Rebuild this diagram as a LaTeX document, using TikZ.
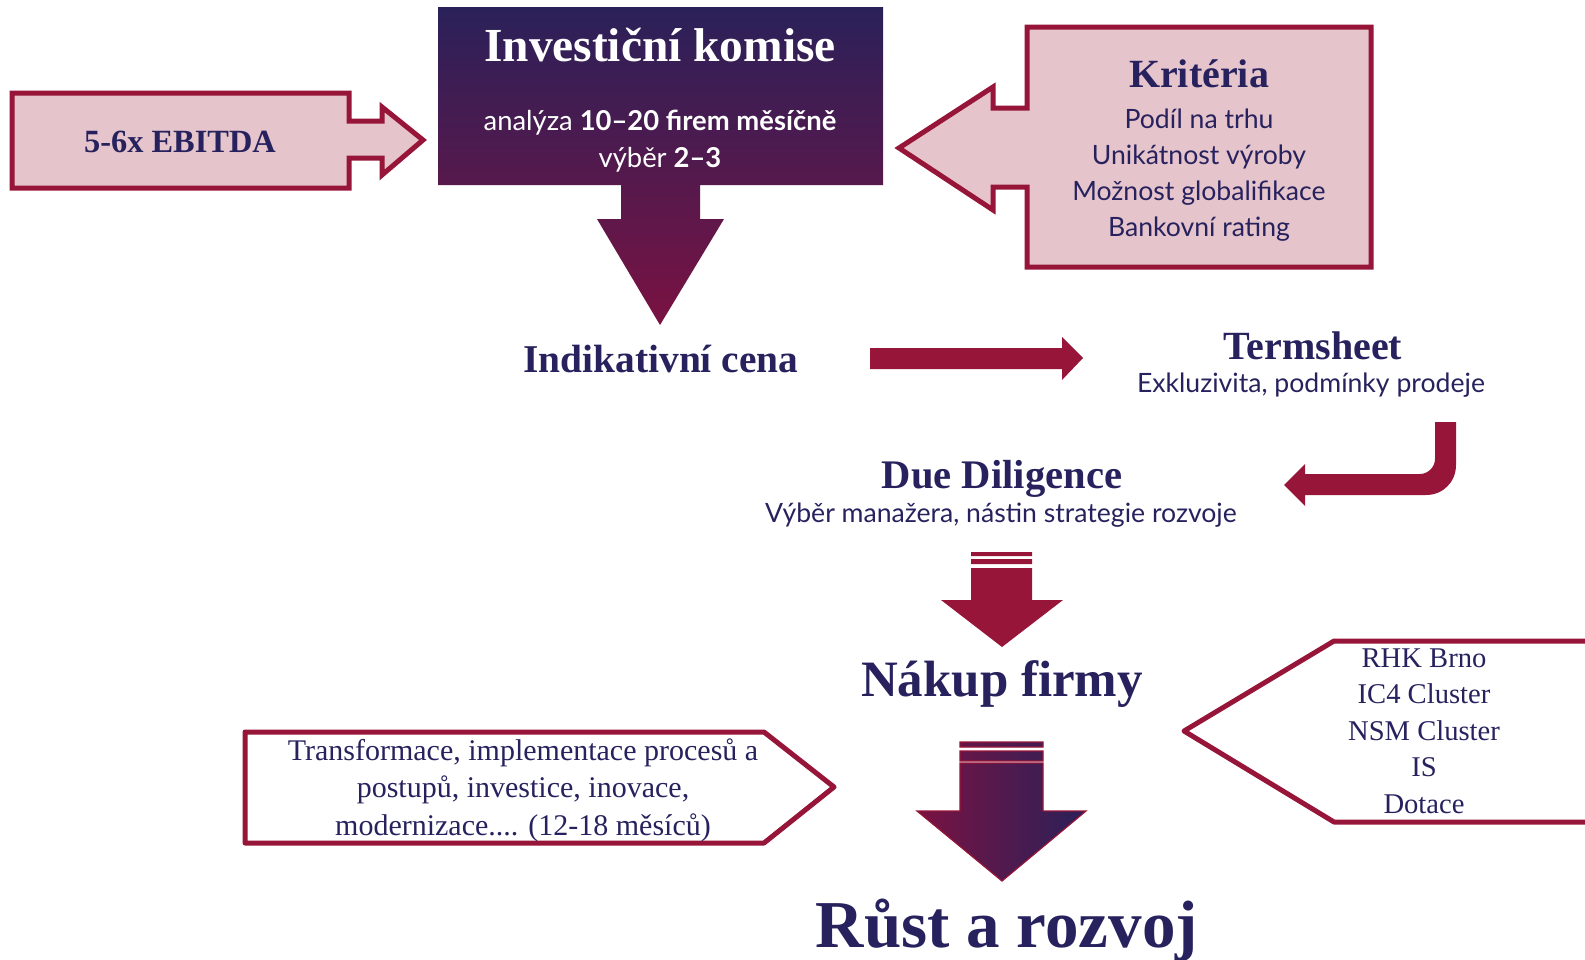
\documentclass[tikz,border=0pt]{standalone}
\usepackage{fontspec}
\setmainfont{Liberation Serif}
\newfontfamily\sansfont{Lato}
\usetikzlibrary{positioning}
\definecolor{ogred}{HTML}{961538}
\definecolor{ogpink}{HTML}{E5C4CB}
\definecolor{ognavy}{HTML}{27225E}
\definecolor{ogtop}{HTML}{2A2159}
\definecolor{ogbot}{HTML}{7A1242}
\tikzset{
  pinkshape/.style={draw=ogred, line width=2.5pt, fill=ogpink, line join=miter},
  tagshape/.style={draw=ogred, line width=2.5pt, fill=white, line join=round},
  redblock/.style={fill=ogred},
  headtxt/.style={text=ognavy, font=\bfseries\fontsize{20}{24}\selectfont, anchor=base, inner sep=0pt},
  subtxt/.style={text=ognavy, font=\sansfont\fontsize{13.3}{16}\selectfont, anchor=base, inner sep=0pt},
  tagtxt/.style={text=ognavy, font=\fontsize{15}{18}\selectfont, anchor=base, inner sep=0pt}
}

\begin{document}
\begin{tikzpicture}[x=0.5pt,y=-0.5pt]
  \useasboundingbox (0,0) rectangle (1585,959);
  \clip (0,0) rectangle (1585,959);

  % investicni komise
  \shade[top color=ogtop, bottom color=ogbot]
    (438,7) -- (883,7) -- (883,185) -- (700,185) -- (700,219) -- (724,219) -- (660,325)
    -- (597,219) -- (621,219) -- (621,185) -- (438,185) -- cycle;
  \node[headtxt, text=white, font=\bfseries\fontsize{23.7}{28}\selectfont] (komise) at (660,61) {Investiční komise};
  \node[subtxt, text=white, font=\sansfont\fontsize{13.7}{16}\selectfont] (analyza) at (660,130) {analýza \textbf{10–20 firem měsíčně}};
  \node[subtxt, text=white, font=\sansfont\fontsize{13.7}{16}\selectfont] (vyber) at (660,167) {výběr \textbf{2–3}};

  % ebitda
  \draw[pinkshape] (12,93) -- (349,93) -- (349,121) -- (382,121) -- (382,107) -- (423,140)
    -- (382,175) -- (382,158) -- (349,158) -- (349,188) -- (12,188) -- cycle;
  \node[headtxt, font=\bfseries\fontsize{16.2}{19}\selectfont] (ebitda) at (180,152) {5-6x EBITDA};

  % kriteria
  \draw[pinkshape] (1027,27) -- (1371,27) -- (1371,267) -- (1027,267) -- (1027,187) -- (993,187)
    -- (993,210) -- (899,148) -- (993,87) -- (993,108) -- (1027,108) -- cycle;
  \node[headtxt] (kriteria) at (1199,87) {Kritéria};
  \foreach \t [count=\i from 0] in {Podíl na trhu, Unikátnost výroby, Možnost globalifikace, Bankovní rating}
    \node[subtxt] (krit\i) at (1199,128+36.3*\i) {\t};

  % indikativni cena -> termsheet
  \node[headtxt, font=\bfseries\fontsize{19.7}{24}\selectfont] (cena) at (661,372) {Indikativní cena};
  \fill[redblock] (870,348) -- (1062,348) -- (1062,337) -- (1083,358) -- (1062,380) -- (1062,369) -- (870,369) -- cycle;
  \node[headtxt] (termsheet) at (1313,359) {Termsheet};
  \node[subtxt] (exkl) at (1311,392) {Exkluzivita, podmínky prodeje};

  % termsheet -> due diligence
  \fill[redblock] (1456,422) -- (1456,465) .. controls (1456,482) and (1443,495) .. (1426,495)
    -- (1305,495) -- (1305,506) -- (1284,485) -- (1305,464) -- (1305,474) -- (1420,474)
    .. controls (1428,474) and (1435,467) .. (1435,459) -- (1435,422) -- cycle;
  \node[headtxt, font=\bfseries\fontsize{20.3}{24}\selectfont] (due) at (1002,488) {Due Diligence};
  \node[subtxt] (manazer) at (1001,522) {Výběr manažera, nástin strategie rozvoje};

  % due diligence -> nakup
  \fill[redblock] (971,552) rectangle (1032,556) (971,559) rectangle (1032,564)
    (971,568) -- (1032,568) -- (1032,600) -- (1063,600) -- (1002,647) -- (941,600) -- (971,600) -- cycle;
  \node[headtxt, font=\bfseries\fontsize{25.5}{30}\selectfont] (nakup) at (1002,696) {Nákup firmy};

  % nakup -> rust
  \shade[left color=ogbot, right color=ogtop, draw=ogred, line width=0.6pt]
    (960,742) rectangle (1043,747) (960,751) rectangle (1043,761)
    (960,763) -- (1043,763) -- (1043,811) -- (1086,811) -- (1002,881) -- (917,811) -- (960,811) -- cycle;
  \node[headtxt, font=\bfseries\fontsize{33.5}{40}\selectfont] (rust) at (1007,947) {Růst a rozvoj};

  % transformace
  \draw[tagshape] (245,732) -- (764,732) -- (834,787) -- (764,843) -- (245,843) -- cycle;
  \node[tagtxt] (trans0) at (523,760) {Transformace, implementace procesů a};
  \node[tagtxt] (trans1) at (523,797) {postupů, investice, inovace,};
  \node[tagtxt] (trans2) at (523,835) {modernizace.... (12-18 měsíců)};

  % partneri
  \draw[tagshape] (1600,641) -- (1334,641) -- (1184,731) -- (1334,822) -- (1600,822);
  \foreach \t [count=\i from 0] in {RHK Brno, IC4 Cluster, NSM Cluster, IS, Dotace}
    \node[tagtxt, font=\fontsize{14.3}{17}\selectfont] (partner\i) at (1424,667+36.5*\i) {\t};
\end{tikzpicture}
\end{document}
